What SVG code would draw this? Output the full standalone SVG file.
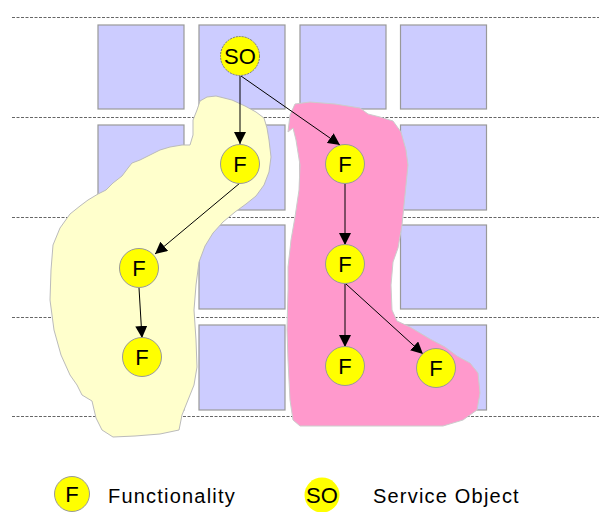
<svg xmlns="http://www.w3.org/2000/svg" width="599" height="512" viewBox="0 0 599 512">
<style>
.grid{stroke:#666;stroke-width:1;stroke-dasharray:3 1.5;fill:none}
.cell{fill:#ccccff;stroke:#999;stroke-width:1.2}
.node{fill:#ffff00;stroke:#999;stroke-width:1}
.so{fill:#ffff00;stroke:#777;stroke-width:1;stroke-dasharray:2 1}
.lbl{font-family:"Liberation Sans",Arial,sans-serif;font-size:22px;fill:#000;text-anchor:middle}
.leg{font-family:"Liberation Sans",Arial,sans-serif;font-size:20px;fill:#000;letter-spacing:1.2px}
.edge{stroke:#000;stroke-width:1;fill:none;marker-end:url(#arr)}
</style>
<defs>
<marker id="arr" markerUnits="userSpaceOnUse" markerWidth="13" markerHeight="12" refX="12" refY="6" orient="auto">
<path d="M0,0 L12,6 L0,12 Z" fill="#000"/>
</marker>
</defs>
<g id="grid">
<line class="grid" x1="12" y1="17.5" x2="599" y2="17.5"/>
<line class="grid" x1="12" y1="117.5" x2="599" y2="117.5"/>
<line class="grid" x1="12" y1="217.5" x2="599" y2="217.5"/>
<line class="grid" x1="12" y1="317.5" x2="599" y2="317.5"/>
<line class="grid" x1="12" y1="416.5" x2="599" y2="416.5"/>
</g>
<g id="cells">
<rect class="cell" x="98" y="25" width="86" height="84"/>
<rect class="cell" x="199" y="25" width="86" height="84"/>
<rect class="cell" x="300" y="25" width="86" height="84"/>
<rect class="cell" x="400.5" y="25" width="86" height="84"/>
<rect class="cell" x="98" y="125" width="86" height="85"/>
<rect class="cell" x="199" y="125" width="86" height="85"/>
<rect class="cell" x="300" y="125" width="86" height="85"/>
<rect class="cell" x="400.5" y="125" width="86" height="85"/>
<rect class="cell" x="98" y="225" width="86" height="84"/>
<rect class="cell" x="199" y="225" width="86" height="84"/>
<rect class="cell" x="300" y="225" width="86" height="84"/>
<rect class="cell" x="400.5" y="225" width="86" height="84"/>
<rect class="cell" x="98" y="325" width="86" height="85"/>
<rect class="cell" x="199" y="325" width="86" height="85"/>
<rect class="cell" x="300" y="325" width="86" height="85"/>
<rect class="cell" x="400.5" y="325" width="86" height="85"/>
</g>
<g id="yellow-region">
<polygon fill="#ffffcc" stroke="#bbbbbb" stroke-width="1" stroke-linejoin="round" points="200,101 207,97 216,96 232,100 245,106 256,112 264,118 267,128 269,140 271,157 269,172 264,185 256,196 246,204 235,212 223,222 213,233 205,246 199,262 196,285 194,310 196,340 197,367 194,385 188,400 182,415 179,430 160,434 135,436 113,437 102,430 96,418 92,401 82,395 77,385 70,375 61,355 54,330 50,300 51,270 53,245 60,228 70,214 80,206 88,200 98,194 106,190 113,183 122,176 128,168 132,163 140,160 150,155 160,150 170,147 182,145 190,145 193,135 193,120 197,110"/>
</g>
<g id="pink-region">
<polygon fill="#ff99cc" stroke="#cccccc" stroke-width="1" stroke-linejoin="round" points="295,104 310,102 335,104 360,108 368,114 380,117 393,121 401,132 406,150 408,165 406,185 404,205 402,225 398,248 393,262 391,285 392,310 397,321 410,327 430,339 445,347 457,356 470,363 478,373 480,393 477,410 463,420 443,426 300,426 293,420 290,400 288,360 287,330 288,290 288,267 291,240 295,217 299,190 300,165 296,140 293,128 288,132 290,115"/>
</g>
<g id="connectors">
<line class="edge" x1="240" y1="76" x2="240" y2="144"/>
<line class="edge" x1="241" y1="76" x2="340" y2="145"/>
<line class="edge" x1="240" y1="183" x2="155" y2="254"/>
<line class="edge" x1="139" y1="288" x2="142" y2="338"/>
<line class="edge" x1="345" y1="184" x2="345" y2="245"/>
<line class="edge" x1="345" y1="284" x2="345" y2="347"/>
<line class="edge" x1="346" y1="284" x2="423" y2="354"/>
</g>
<g id="so">
<circle class="so" cx="240" cy="56" r="19.5"/>
<text class="lbl" x="240" y="64">SO</text>
</g>
<g id="f1">
<circle class="node" cx="240" cy="164" r="19.5"/>
<text class="lbl" x="240" y="172">F</text>
</g>
<g id="f2">
<circle class="node" cx="345" cy="164" r="19.5"/>
<text class="lbl" x="345" y="172">F</text>
</g>
<g id="f3">
<circle class="node" cx="139" cy="268" r="19.5"/>
<text class="lbl" x="139" y="276">F</text>
</g>
<g id="f4">
<circle class="node" cx="142" cy="357" r="19.5"/>
<text class="lbl" x="142" y="365">F</text>
</g>
<g id="f5">
<circle class="node" cx="345" cy="264" r="19.5"/>
<text class="lbl" x="345" y="272">F</text>
</g>
<g id="f6">
<circle class="node" cx="345" cy="366" r="19.5"/>
<text class="lbl" x="345" y="374">F</text>
</g>
<g id="f7">
<circle class="node" cx="436" cy="368" r="19.5"/>
<text class="lbl" x="436" y="376">F</text>
</g>
<g id="legend">
<circle class="node" cx="72" cy="494" r="17.5"/>
<text class="lbl" x="72" y="502">F</text>
<text class="leg" x="108" y="503">Functionality</text>
<circle fill="#ffff00" cx="322" cy="495" r="17.5"/>
<text class="lbl" x="322" y="503">SO</text>
<text class="leg" x="373" y="503">Service Object</text>
</g>
</svg>
